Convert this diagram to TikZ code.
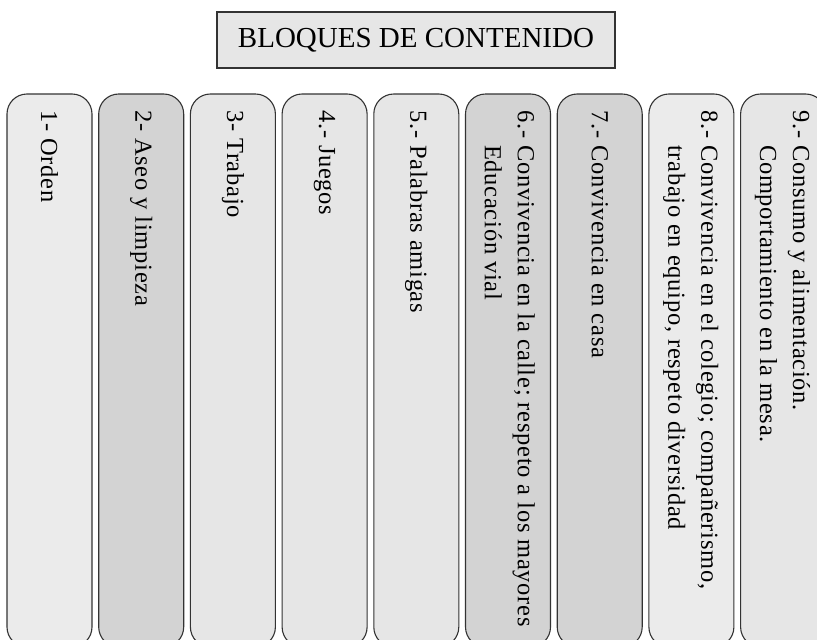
\documentclass[tikz,border=0pt]{standalone}
\usepackage{fontspec}
\setmainfont{Liberation Serif}
\newfontfamily\boxfont[LetterSpace=3]{Liberation Serif}
\usetikzlibrary{positioning}
\definecolor{grisclaro}{HTML}{EBEBEB}
\definecolor{grismedio}{HTML}{E6E6E6}
\definecolor{grisoscuro}{HTML}{D3D3D3}
\tikzset{
  titlebox/.style={rectangle, minimum width=398pt, minimum height=56pt,
    draw=black!80, line width=1.1pt, fill=grismedio,
    font=\fontsize{29}{34}\selectfont, inner sep=0pt},
  blockbox/.style={rectangle, rounded corners=20pt,
    minimum width=85pt, minimum height=553pt, inner sep=0pt, outer sep=0pt,
    draw=black!80, line width=1.1pt},
  blocktext/.style={rotate=-90, anchor=west, inner sep=0pt,
    font=\boxfont\fontsize{24.5}{33}\selectfont, align=left},
}
\newcommand{\numline}[3]{\begin{tabular}{@{}l@{ }l@{}}#1&#2\\&#3\end{tabular}}

\begin{document}
\begin{tikzpicture}[x=1pt, y=-1pt]
\useasboundingbox (0,0) rectangle (817,640);
\clip (0,0) rectangle (817,640);

\node (title) [titlebox] at (416,40) {BLOQUES DE CONTENIDO};

% bloques
\node (b1) [blockbox, fill=grisclaro] at (49.5,370.5) {};
\node (b2) [blockbox, fill=grisoscuro, right=6.7pt of b1] {};
\node (b3) [blockbox, fill=grismedio,  right=6.7pt of b2] {};
\node (b4) [blockbox, fill=grismedio,  right=6.7pt of b3] {};
\node (b5) [blockbox, fill=grismedio,  right=6.7pt of b4] {};
\node (b6) [blockbox, fill=grisoscuro, right=6.7pt of b5] {};
\node (b7) [blockbox, fill=grisoscuro, right=6.7pt of b6] {};
\node (b8) [blockbox, fill=grisclaro,  right=6.7pt of b7] {};
\node (b9) [blockbox, fill=grismedio,  right=6.7pt of b8] {};

% textos
\node (t1) [blocktext] at ([yshift=-16pt]b1.north) {1- Orden};
\node (t2) [blocktext] at ([yshift=-16pt]b2.north) {2- Aseo y limpieza};
\node (t3) [blocktext] at ([yshift=-16pt]b3.north) {3- Trabajo};
\node (t4) [blocktext] at ([yshift=-16pt]b4.north) {4.- Juegos};
\node (t5) [blocktext] at ([yshift=-16pt]b5.north) {5.- Palabras amigas};
\node (t6) [blocktext] at ([yshift=-16pt]b6.north)
  {\numline{6.-}{Convivencia en la calle; respeto a los mayores}{Educación vial}};
\node (t7) [blocktext] at ([yshift=-16pt]b7.north) {7.- Convivencia en casa};
\node (t8) [blocktext] at ([yshift=-16pt]b8.north)
  {\numline{8.-}{Convivencia en el colegio; compañerismo,}{trabajo en equipo, respeto diversidad}};
\node (t9) [blocktext] at ([yshift=-16pt]b9.north)
  {\numline{9.-}{Consumo y alimentación.}{Comportamiento en la mesa.}};

\end{tikzpicture}
\end{document}
